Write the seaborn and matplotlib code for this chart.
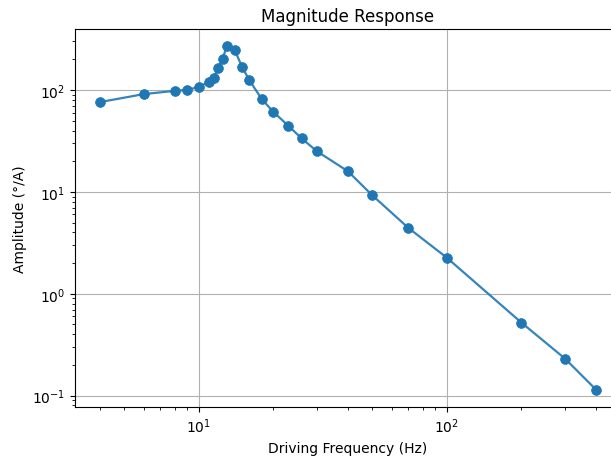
import numpy as np
import pandas as pd
import seaborn as sns
import matplotlib
matplotlib.use("Agg")
import matplotlib.pyplot as plt

# frequencies (Hz) and amplitudes (deg/A)
freq = [4, 6, 8, 9, 10, 11, 11.5, 12, 12.5, 13, 14, 15, 16, 18, 20, 23, 26, 30,
        40, 50, 70, 100, 200, 300, 400]
amp = [76, 91, 98, 100, 107, 120, 132, 163, 203, 269, 244, 167, 125, 81, 61, 44.5,
       33.5, 25, 15.9, 9.3, 4.43, 2.26, 0.52, 0.23, 0.114]

df = pd.DataFrame({"freq": freq, "amp": amp})

plt.rcParams["font.family"] = ["DejaVu Sans"]
fig = plt.figure(figsize=(6.11, 4.60), dpi=100)
ax = fig.add_axes([75 / 611, 1 - 408 / 460, 546 / 611, 378 / 460])
ax.set_xscale("log")
ax.set_yscale("log")

# line (slightly lighter) then the points on top
sns.lineplot(data=df, x="freq", y="amp", ax=ax, color="#1f77b4", linewidth=1.6,
             sort=False, alpha=0.9)
sns.scatterplot(data=df, x="freq", y="amp", ax=ax, color="#1f77b4", s=50,
                edgecolor="#1f77b4", linewidth=0.5, zorder=3)

ax.grid(True, which="major", color="#b0b0b0", linewidth=0.8)
ax.set_title("Magnitude Response", fontsize=12)
ax.set_xlabel("Driving Frequency (Hz)", fontsize=10)
ax.set_ylabel("Amplitude (°/A)", fontsize=10)

fig.savefig("out.png", dpi=100)
